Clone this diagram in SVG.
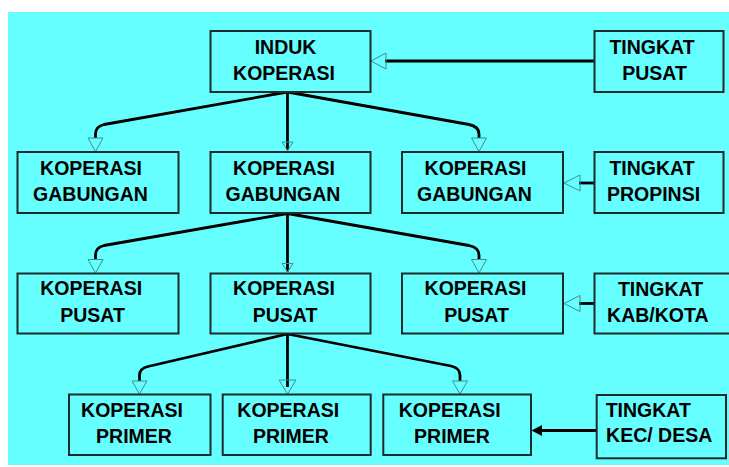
<svg xmlns="http://www.w3.org/2000/svg" width="729" height="467" viewBox="0 0 729 467">
<style>
.box{fill:#66ffff;stroke:#1e2b2b;stroke-width:2}
.t{font-family:"Liberation Sans",Arial,sans-serif;font-weight:bold;font-size:19.5px;fill:#000;text-anchor:middle}
.ln{fill:none;stroke:#000;stroke-width:2.8;stroke-linejoin:round}
.ah{fill:none;stroke:#3f8f8f;stroke-width:1}
</style>
<rect x="0" y="0" width="729" height="467" fill="#ffffff"/>
<rect x="8" y="12" width="721" height="453" fill="#66ffff"/>

<g id="connectors">
  <!-- TINGKAT PUSAT -> INDUK -->
  <line class="ln" x1="594.5" y1="61" x2="385" y2="61"/>
  <polygon class="ah" points="371,61 386,53 386,69"/>
  <!-- TINGKAT PROPINSI -> GABUNGAN 3 -->
  <line class="ln" x1="594.5" y1="183" x2="579" y2="183"/>
  <polygon class="ah" points="564,183 580,175 580,191"/>
  <!-- TINGKAT KAB/KOTA -> PUSAT 3 -->
  <line class="ln" x1="594.5" y1="303.5" x2="579" y2="303.5"/>
  <polygon class="ah" points="564,303.5 580,295.5 580,311.5"/>
  <!-- TINGKAT KEC/DESA -> PRIMER 3 -->
  <line class="ln" x1="596.7" y1="430.5" x2="540" y2="430.5"/>
  <polygon points="531.5,430.5 542,425 542,436" fill="#000"/>

  <!-- INDUK -> row 2 -->
  <path class="ln" d="M287.5,92 L104,124.5 Q95.5,126.5 95.5,134 L95.5,138"/>
  <polygon class="ah" points="95.5,151.5 88,138 103,138"/>
  <line class="ln" x1="287.5" y1="92" x2="287.5" y2="150"/>
  <polygon class="ah" points="287.5,150.5 282,142 293,142"/>
  <path class="ln" d="M287.5,92 L469,124.5 Q479,126.5 479,134 L479,138"/>
  <polygon class="ah" points="479,151.5 471.5,138 486.5,138"/>

  <!-- GABUNGAN 2 -> row 3 -->
  <path class="ln" d="M287.5,213.5 L104,245.5 Q95.5,247.5 95.5,255 L95.5,259.5"/>
  <polygon class="ah" points="95.5,273 88,259.5 103,259.5"/>
  <line class="ln" x1="287.5" y1="213.5" x2="287.5" y2="271.5"/>
  <polygon class="ah" points="287.5,272 282,263.5 293,263.5"/>
  <path class="ln" d="M287.5,213.5 L469,245.5 Q479,247.5 479,255 L479,259.5"/>
  <polygon class="ah" points="479,273 471.5,259.5 486.5,259.5"/>

  <!-- PUSAT 2 -> row 4 -->
  <path class="ln" d="M287.5,334 L148,366.5 Q139.5,368.5 139.5,375 L139.5,381"/>
  <polygon class="ah" points="139.5,394 132,381 147,381"/>
  <line class="ln" x1="287.5" y1="334" x2="287.5" y2="387"/>
  <polygon class="ah" points="287.5,394 279,380 296,380"/>
  <path class="ln" d="M287.5,334 L451,366 Q460,368 460,375 L460,381"/>
  <polygon class="ah" points="460,394 452.5,381 467.5,381"/>
</g>

<g id="induk">
  <rect class="box" x="210.5" y="31" width="160" height="61"/>
  <text class="t" x="285.5" y="53.5">INDUK</text>
  <text class="t" x="284" y="80">KOPERASI</text>
</g>
<g id="tingkat-pusat">
  <rect class="box" x="594.5" y="31" width="129" height="61"/>
  <text class="t" x="652" y="53.5">TINGKAT</text>
  <text class="t" x="654.5" y="80">PUSAT</text>
</g>

<g id="gabungan-1">
  <rect class="box" x="17.5" y="152" width="161" height="61"/>
  <text class="t" x="91" y="175">KOPERASI</text>
  <text class="t" x="90.5" y="201">GABUNGAN</text>
</g>
<g id="gabungan-2">
  <rect class="box" x="210.5" y="152" width="160" height="61"/>
  <text class="t" x="284" y="175">KOPERASI</text>
  <text class="t" x="283" y="201">GABUNGAN</text>
</g>
<g id="gabungan-3">
  <rect class="box" x="402" y="152" width="161" height="61"/>
  <text class="t" x="475.5" y="175">KOPERASI</text>
  <text class="t" x="474.5" y="201">GABUNGAN</text>
</g>
<g id="tingkat-propinsi">
  <rect class="box" x="594.5" y="152" width="129" height="61"/>
  <text class="t" x="652" y="175">TINGKAT</text>
  <text class="t" x="653.5" y="201">PROPINSI</text>
</g>

<g id="pusat-1">
  <rect class="box" x="17.5" y="273.5" width="161" height="60"/>
  <text class="t" x="91.2" y="295">KOPERASI</text>
  <text class="t" x="92.5" y="321.7">PUSAT</text>
</g>
<g id="pusat-2">
  <rect class="box" x="210.5" y="273.5" width="160" height="60"/>
  <text class="t" x="284" y="295">KOPERASI</text>
  <text class="t" x="285" y="321.7">PUSAT</text>
</g>
<g id="pusat-3">
  <rect class="box" x="402" y="273.5" width="161" height="60"/>
  <text class="t" x="475.5" y="295">KOPERASI</text>
  <text class="t" x="476.5" y="321.7">PUSAT</text>
</g>
<g id="tingkat-kabkota">
  <rect class="box" x="594.5" y="273.5" width="137" height="60"/>
  <text class="t" x="660.5" y="295.7">TINGKAT</text>
  <text class="t" x="657.8" y="321.7">KAB/KOTA</text>
</g>

<g id="primer-1">
  <rect class="box" x="69" y="394.5" width="141.5" height="60.5"/>
  <text class="t" x="132" y="416.7">KOPERASI</text>
  <text class="t" x="134" y="442.5">PRIMER</text>
</g>
<g id="primer-2">
  <rect class="box" x="222.7" y="394.5" width="148" height="60.5"/>
  <text class="t" x="288.3" y="416.7">KOPERASI</text>
  <text class="t" x="290.8" y="442.5">PRIMER</text>
</g>
<g id="primer-3">
  <rect class="box" x="383.3" y="394.5" width="147.7" height="60.5"/>
  <text class="t" x="449.7" y="416.7">KOPERASI</text>
  <text class="t" x="452" y="442.5">PRIMER</text>
</g>
<g id="tingkat-kecdesa">
  <rect class="box" x="596.7" y="395" width="129.3" height="63.3"/>
  <text class="t" x="648.3" y="416.7">TINGKAT</text>
  <text class="t" x="659.2" y="442.3">KEC/ DESA</text>
</g>
</svg>
